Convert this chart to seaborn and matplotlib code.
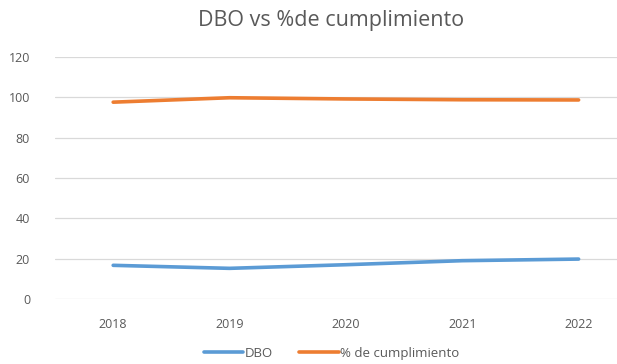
import matplotlib
matplotlib.use("Agg")
import matplotlib.pyplot as plt
import seaborn as sns
import pandas as pd
from matplotlib.lines import Line2D

years = ["2018", "2019", "2020", "2021", "2022"]
dbo = [16.7, 15.2, 17.0, 19.0, 19.8]
cumplimiento = [97.6, 99.8, 99.2, 98.8, 98.7]
series_names = ["DBO", "% de cumplimiento"]

sns.set_theme(style="white")
plt.rcParams['font.family'] = ['Open Sans', 'DejaVu Sans']

df = pd.DataFrame({
    "year": years * 2,
    "value": dbo + cumplimiento,
    "serie": [series_names[0]] * len(years) + [series_names[1]] * len(years),
})
df["x"] = list(range(len(years))) * 2

fig = plt.figure(figsize=(6.17, 3.64), dpi=100)
ax = fig.add_axes([55 / 617, 1 - 299 / 364, 1 - 55 / 617, (299 - 57) / 364])

sns.lineplot(data=df, x="x", y="value", hue="serie",
             palette=["#5B9BD5", "#ED7D31"], linewidth=2.6, ax=ax,
             legend=False)

gray = "#595959"
ax.set_ylim(0, 120)
ax.set_yticks(range(0, 121, 20))
ax.set_xlim(-0.5, 4.33)
ax.set_xticks(range(len(years)))
ax.set_xticklabels(years)
ax.yaxis.grid(True, color="#D9D9D9", linewidth=0.9)
ax.set_axisbelow(True)
for s in ["top", "right", "left", "bottom"]:
    ax.spines[s].set_visible(False)
ax.tick_params(axis="both", colors=gray, labelsize=9, length=0)
ax.tick_params(axis="x", pad=14)
ax.tick_params(axis="y", pad=18)
ax.set_xlabel("")
ax.set_ylabel("")

fig.text(0.537, 0.945, "DBO vs %de cumplimiento", ha="center", va="center",
         fontsize=15.5, color=gray)

handles = [Line2D([], [], color="#5B9BD5", lw=2.6),
           Line2D([], [], color="#ED7D31", lw=2.6)]
fig.legend(handles, series_names, loc="center", bbox_to_anchor=(0.537, 0.03),
           ncol=2, frameon=False, fontsize=9.5, labelcolor=gray,
           handlelength=3.0, handletextpad=0.1, columnspacing=2.0)

fig.savefig("out.png", dpi=100)
